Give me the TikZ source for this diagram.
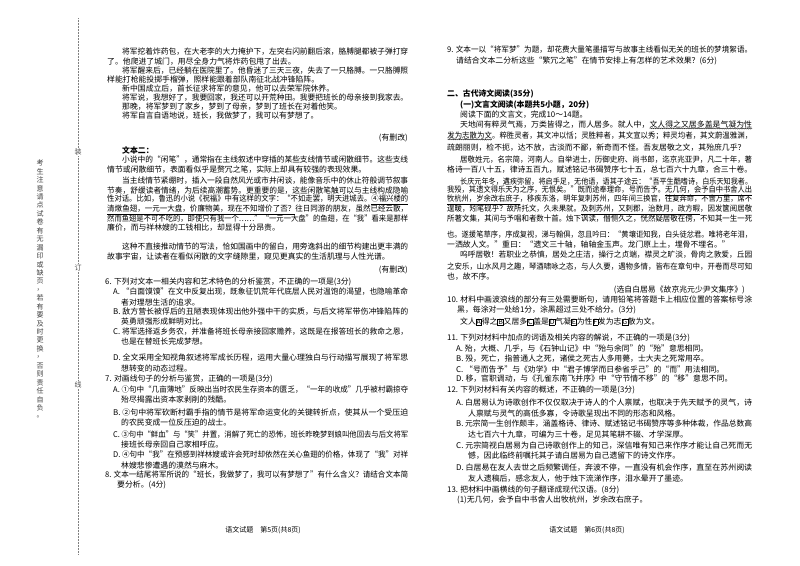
\documentclass[tikz,border=0pt]{standalone}
\usepackage{fontspec}
\usepackage{graphicx}
\usetikzlibrary{decorations.pathmorphing}
\setmainfont{Noto Sans CJK SC}
\newcounter{ln}
\newcommand\bodyfont{\fontsize{7.85}{9}\selectfont}
\tikzset{ln/.style={anchor=west,inner sep=0pt,text=black}}
\newcommand\FL[4]{\stepcounter{ln}%
  \node[ln] (ln\arabic{ln}) at (#1,#2) {\resizebox{#3pt}{\height}{#4}};}
\newcommand\PL[3]{\stepcounter{ln}\node[ln] (ln\arabic{ln}) at (#1,#2) {#3};}
\newcommand\RL[3]{\stepcounter{ln}\node[ln,anchor=east] (ln\arabic{ln}) at (#1,#2) {#3};}
\newcommand\bx[1]{{\fboxsep=0.4pt\fboxrule=0.4pt\fbox{\scriptsize #1}}}
\newcommand\uline[1]{\underline{#1}}
\newcommand\uwave[1]{\tikz[baseline=0pt]{\node[inner sep=0pt,anchor=base west,font=\bodyfont] at (0pt,0pt) {#1};
  \draw[line width=0.35pt,decorate,decoration={snake,amplitude=0.5pt,segment length=2.2pt}]
   ([yshift=-0.3pt]current bounding box.south west) -- ([yshift=-0.3pt]current bounding box.south east);}}
\begin{document}
\begin{tikzpicture}[x=1pt,y=-1pt,font=\bodyfont]
\useasboundingbox[fill=white] (0,0) rectangle (800,565);
% binding strip
\draw[gray,densely dotted,line width=0.5pt] (78,18) coordinate (bt) -- (78,555) coordinate (bb);
\foreach \t/\yy [count=\i] in {装/152,订/268,线/385}
  \node[fill=white,inner sep=1pt,text=black!70,font=\fontsize{7}{8}\selectfont] (bl\i) at (78,\yy) {\t};
\foreach \c [count=\i] in {考,生,注,意,请,点,试,卷,有,无,漏,印,或,缺,页,，,若,有,要,及,时,更,换,，,否,则,责,任,自,负,。}
  \node[inner sep=0pt,text=black!75,font=\fontsize{7}{8}\selectfont] (nt\i) at (40,{163+(\i-1)*8.45}) {\c};
% ===== left column =====
\FL{122}{52}{286}{将军挖着炸药包，在大老李的大力掩护下，左突右闪前翻后滚，胳膊腿都被子弹打穿}
\PL{107}{62}{了。他爬进了城门，用尽全身力气将炸药包甩了出去。}
\FL{122}{71}{286}{将军醒来后，已经躺在医院里了。他昏迷了三天三夜，失去了一只胳膊。一只胳膊照}
\PL{107}{80}{样能打枪能投掷手榴弹，照样能跟着部队南征北战冲锋陷阵。}
\PL{122}{89}{新中国成立后，首长征求将军的意见，他可以去荣军院休养。}
\FL{122}{98}{286}{将军说，我想好了，我要回家，我还可以开荒种田。我要把班长的母亲接到我家去。}
\PL{122}{107}{那晚，将军梦到了家乡，梦到了母亲，梦到了班长在对着他笑。}
\PL{122}{116}{将军自言自语地说，班长，我做梦了，我可以有梦想了。}
\RL{408}{138}{(有删改)}
\PL{122}{150}{\textbf{文本二：}}
\FL{122}{160}{286}{小说中的“闲笔”，通常指在主线叙述中穿插的某些支线情节或闲散细节。这些支线}
\PL{107}{170}{情节或闲散细节，表面看似乎是赘冗之笔，实际上却具有较强的表现效果。}
\FL{122}{181}{286}{当主线情节紧绷时，插入一段自然风光或市井闲谈，能像音乐中的休止符般调节叙事}
\FL{107}{191}{301}{节奏，舒缓读者情绪，为后续高潮蓄势。更重要的是，这些闲散笔触可以与主线构成隐喻}
\FL{107}{200}{301}{性对话。比如，鲁迅的小说《祝福》中有这样的文字：“不如走罢，明天进城去。\uline{④福兴楼的}}
\FL{107}{210}{301}{\uline{清燉鱼翅，一元一大盘，价廉物美，现在不知增价了否？}往日同游的朋友，虽然已经云散，}
\FL{107}{219}{301}{然而鱼翅是不可不吃的，即使只有我一个……”“一元一大盘”的鱼翅，在“我”看来是那样}
\PL{107}{228}{廉价，而与祥林嫂的工钱相比，却显得十分昂贵。}
\FL{122}{247}{286}{这种不直接推动情节的写法，恰如国画中的留白，用旁逸斜出的细节构建出更丰满的}
\PL{107}{257}{故事宇宙，让读者在看似闲散的文字缝隙里，窥见更真实的生活肌理与人性光谱。}
\RL{408}{270}{(有删改)}
\PL{105}{282}{6. 下列对文本一相关内容和艺术特色的分析鉴赏，不正确的一项是(3分)}
\FL{113}{292}{295}{A. “白面馍馍”在文中反复出现，既象征饥荒年代底层人民对温饱的渴望，也隐喻革命}
\PL{121}{302}{者对理想生活的追求。}
\FL{113}{312}{295}{B. 敌方营长被俘后的丑陋表现体现出他外强中干的实质，与后文将军带伤冲锋陷阵的}
\PL{121}{322}{英勇顽强形成鲜明对比。}
\FL{113}{332}{295}{C. 将军选择返乡务农，并准备将班长母亲接回家赡养，这既是在报答班长的救命之恩，}
\PL{121}{342}{也是在替班长完成梦想。}
\FL{113}{358}{295}{D. 全文采用全知视角叙述将军成长历程，运用大量心理独白与行动描写展现了将军思}
\PL{121}{368}{想转变的动态过程。}
\PL{105}{379}{7. 对画线句子的分析与鉴赏，正确的一项是(3分)}
\FL{113}{390}{295}{A. ①句中“几亩薄地”反映出当时农民生存资本的匮乏，“一年的收成”几乎被村霸掠夺}
\PL{121}{400}{殆尽揭露出资本家剥削的残酷。}
\FL{113}{413}{295}{B. ②句中将军砍断村霸手指的情节是将军命运变化的关键转折点，使其从一个受压迫}
\PL{121}{423}{的农民变成一位反压迫的战士。}
\FL{113}{435}{295}{C. ③句中“鲜血”与“笑”并置，消解了死亡的恐怖，班长昨晚梦到娘叫他回去与后文将军}
\PL{121}{445}{接班长母亲回自己家相呼应。}
\FL{113}{455}{295}{D. ④句中“我”在预感到祥林嫂或许会死时却依然在关心鱼翅的价格，体现了“我”对祥}
\PL{121}{465}{林嫂悲惨遭遇的漠然与麻木。}
\FL{105}{475}{303}{8. 文本一结尾将军所说的“班长，我做梦了，我可以有梦想了”有什么含义？请结合文本简}
\PL{117}{485}{要分析。(4分)}
\node[ln,anchor=center,font=\fontsize{7}{8}\selectfont] (foot1) at (263,530) {语文试题\quad 第5页(共8页)};
% ===== right column =====
\FL{447}{50}{305}{9. 文本一以“将军梦”为题，却花费大量笔墨描写与故事主线看似无关的班长的梦境絮语。}
\PL{456}{61}{请结合文本二分析这些“繁冗之笔”在情节安排上有怎样的艺术效果？(6分)}
\PL{447}{94}{\textbf{二、古代诗文阅读(35分)}}
\PL{460}{105}{\textbf{(一)文言文阅读(本题共5小题，20分)}}
\PL{460}{115}{阅读下面的文言文，完成10～14题。}
\FL{460}{125}{292}{天地间有粹灵气焉，万类皆得之，而人居多。就人中，\uwave{文人得之又居多盖是气凝为性}}
\FL{447}{136}{305}{\uwave{发为志散为文}。粹胜灵者，其文冲以恬；灵胜粹者，其文宣以秀；粹灵均者，其文蔚温雅渊，}
\PL{447}{148}{疏朗丽则，检不扼，达不放，古淡而不鄙，新奇而不怪。吾友居敬之文，其殆庶几乎？}
\FL{460}{160}{292}{居敬姓元，名宗简，河南人。自举进士，历御史府、尚书郎，迄京兆亚尹，凡二十年，著}
\FL{447}{170}{305}{格诗一百八十五，律诗五百九，赋述铭记书碣赞序七十五，总七百六十九章，合三十卷。}
\FL{460}{182}{292}{长庆元年冬，遘疾弥留，将启手足，无他语，语其子途云：“吾平生酷嗜诗，白乐天知我者。}
\FL{447}{191}{305}{我殁，其遗文得乐天为之序，无恨矣。”既而途奉理命，号而告予。\uline{无几何，会予自中书舍人出}}
\FL{447}{200}{305}{\uline{牧杭州，岁余改右庶子}，移疾东洛，明年复刺苏州，四年间三换官，往复奔命，不啻万里，席不}
\FL{447}{210}{305}{遑暖，矧笔砚乎？故所托文，久未果就。\uline{及刺苏州，又刺郡，治数月，政方暇}，因发箧阅居敬}
\FL{447}{219}{305}{所著文集，其间与予唱和者数十首。烛下讽读，僭恻久之，恍然疑居敬在傍，不知其一生一死}
\FL{447}{235}{305}{也。遂援笔草序，序成复视，涕与翰俱，忽且吟曰：“黄壤讵知我，白头徒忿君。唯将老年泪，}
\PL{447}{245}{一洒故人文。”重曰：“遗文三十轴，轴轴金玉声。龙门原上土，埋骨不埋名。”}
\FL{460}{255}{292}{呜呼居敬！若职业之恭慎，居处之庄洁，操行之贞端，襟灵之旷淡，骨肉之敦爱，丘园}
\FL{447}{267}{305}{之安乐，山水风月之趣，琴酒啸咏之态，与人久要，遇物多情，皆布在章句中，开卷而尽可知}
\PL{447}{277}{也，故不序。}
\RL{745}{290}{(选自白居易《故京兆元少尹文集序》)}
\FL{447}{300}{305}{10. 材料中画波浪线的部分有三处需要断句，请用铅笔将答题卡上相应位置的答案标号涂}
\PL{457}{310}{黑，每涂对一处给1分，涂黑超过三处不给分。(3分)}
\PL{460}{322}{文人\bx{A}得之\bx{B}又居多\bx{C}盖是\bx{D}气凝\bx{E}为性\bx{F}发为志\bx{G}散为文。}
\PL{447}{338}{11. 下列对材料中加点的词语及相关内容的解说，不正确的一项是(3分)}
\PL{456}{349}{A. 殆，大概、几乎，与《石钟山记》中“殆与余同”的“殆”意思相同。}
\PL{456}{359}{B. 殁，死亡，指普通人之死，诸侯之死古人多用薨，士大夫之死常用卒。}
\PL{456}{370}{C. “号而告予”与《劝学》中“君子博学而日参省乎己”的“而”用法相同。}
\PL{456}{379}{D. 移，官职调动，与《孔雀东南飞并序》中“守节情不移”的“移”意思不同。}
\PL{447}{390}{12. 下列对材料有关内容的概述，不正确的一项是(3分)}
\FL{456}{403}{296}{A. 白居易认为诗歌创作不仅仅取决于诗人的个人禀赋，也取决于先天赋予的灵气，诗}
\PL{468}{414}{人禀赋与灵气的高低多寡，令诗歌呈现出不同的形态和风格。}
\FL{456}{424}{296}{B. 元宗简一生创作颇丰，涵盖格诗、律诗、赋述铭记书碣赞序等多种体裁，作品总数高}
\PL{468}{435}{达七百六十九章，可编为三十卷，足见其笔耕不辍、才学深厚。}
\FL{456}{446}{296}{C. 元宗简视白居易为自己诗歌创作上的知己，深信唯有知己来作序才能让自己死而无}
\PL{468}{456}{憾，因此临终前嘱托其子请白居易为自己遗留下的诗文作序。}
\FL{456}{468}{296}{D. 白居易在友人去世之后频繁调任，奔波不停，一直没有机会作序，直至在苏州阅读}
\PL{468}{479}{友人遗稿后，感念友人，他于烛下流涕作序，泪水晕开了墨迹。}
\PL{447}{490}{13. 把材料中画横线的句子翻译成现代汉语。(8分)}
\PL{457}{500}{(1)无几何，会予自中书舍人出牧杭州，岁余改右庶子。}
\node[ln,anchor=center,font=\fontsize{7}{8}\selectfont] (foot2) at (587,530) {语文试题\quad 第6页(共8页)};
\end{tikzpicture}
\end{document}
